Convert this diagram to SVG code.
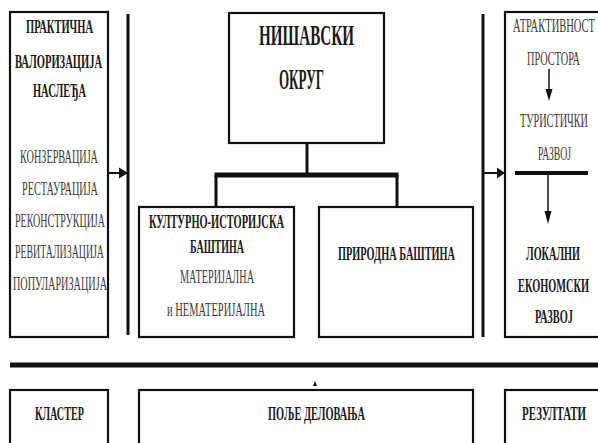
<svg xmlns="http://www.w3.org/2000/svg" width="598" height="443" viewBox="0 0 598 443">
<defs>
<style>
.box{fill:#fff;stroke:#111;stroke-width:2.2}
.ln{stroke:#111;fill:none}
.ah{fill:#111}
text{font-family:"Liberation Serif","Times New Roman",serif;font-size:18px;text-anchor:middle}
.b{font-weight:bold;fill:#1a1a1a}
.r{fill:#3a3a3a}
.t{font-size:30px;font-weight:bold;fill:#1a1a1a}
</style>
</defs>
<rect width="598" height="443" fill="#fff"/>
<g id="valorizacija">
<rect class="box" x="10" y="12" width="98" height="325"/>
<text class="b" x="59.5" y="33" textLength="67" lengthAdjust="spacingAndGlyphs">ПРАКТИЧНА</text>
<text class="b" x="58.5" y="68" textLength="87" lengthAdjust="spacingAndGlyphs">ВАЛОРИЗАЦИЈА</text>
<text class="b" x="59.5" y="97" textLength="53" lengthAdjust="spacingAndGlyphs">НАСЛЕЂА</text>
<text class="r" x="59" y="163" textLength="78" lengthAdjust="spacingAndGlyphs">КОНЗЕРВАЦИЈА</text>
<text class="r" x="60" y="195" textLength="76" lengthAdjust="spacingAndGlyphs">РЕСТАУРАЦИЈА</text>
<text class="r" x="60" y="227" textLength="90" lengthAdjust="spacingAndGlyphs">РЕКОНСТРУКЦИЈА</text>
<text class="r" x="59.5" y="258" textLength="89" lengthAdjust="spacingAndGlyphs">РЕВИТАЛИЗАЦИЈА</text>
<text class="r" x="60" y="290" textLength="94" lengthAdjust="spacingAndGlyphs">ПОПУЛАРИЗАЦИЈА</text>
</g>
<g id="okrug">
<rect class="box" x="229" y="13" width="155" height="130"/>
<text class="t" x="306.5" y="45" textLength="95" lengthAdjust="spacingAndGlyphs">НИШАВСКИ</text>
<text class="t" x="301.5" y="89" textLength="45" lengthAdjust="spacingAndGlyphs">ОКРУГ</text>
</g>
<g id="kulturna">
<rect class="box" x="139" y="207" width="155" height="130"/>
<text class="b" x="216.5" y="228" textLength="135" lengthAdjust="spacingAndGlyphs">КУЛТУРНО-ИСТОРИЈСКА</text>
<text class="b" x="217" y="253" textLength="54" lengthAdjust="spacingAndGlyphs">БАШТИНА</text>
<text class="r" x="217" y="283" textLength="74" lengthAdjust="spacingAndGlyphs">МАТЕРИЈАЛНА</text>
<text class="r" x="216" y="316" textLength="98" lengthAdjust="spacingAndGlyphs">и НЕМАТЕРИЈАЛНА</text>
</g>
<g id="prirodna">
<rect class="box" x="319" y="207" width="154" height="130"/>
<text class="b" x="396.5" y="260" textLength="117" lengthAdjust="spacingAndGlyphs">ПРИРОДНА БАШТИНА</text>
</g>
<g id="razvoj">
<rect class="box" x="505" y="12" width="110" height="325"/>
<text class="r" x="554" y="32" textLength="82" lengthAdjust="spacingAndGlyphs">АТРАКТИВНОСТ</text>
<text class="r" x="553.5" y="65" textLength="53" lengthAdjust="spacingAndGlyphs">ПРОСТОРА</text>
<text class="r" x="554" y="127" textLength="68" lengthAdjust="spacingAndGlyphs">ТУРИСТИЧКИ</text>
<text class="r" x="554.5" y="160" textLength="33" lengthAdjust="spacingAndGlyphs">РАЗВОЈ</text>
<text class="b" x="553" y="260" textLength="54" lengthAdjust="spacingAndGlyphs">ЛОКАЛНИ</text>
<text class="b" x="553.5" y="292" textLength="71" lengthAdjust="spacingAndGlyphs">ЕКОНОМСКИ</text>
<text class="b" x="554" y="323" textLength="38" lengthAdjust="spacingAndGlyphs">РАЗВОЈ</text>
</g>
<g id="klaster">
<rect class="box" x="10" y="390" width="98" height="70"/>
<text class="b" x="59.5" y="420" textLength="49" lengthAdjust="spacingAndGlyphs">КЛАСТЕР</text>
</g>
<g id="polje">
<rect class="box" x="139" y="390" width="334" height="70"/>
<text class="b" x="316.5" y="420" textLength="97" lengthAdjust="spacingAndGlyphs">ПОЉЕ ДЕЛОВАЊА</text>
</g>
<g id="rezultati">
<rect class="box" x="505" y="390" width="110" height="70"/>
<text class="b" x="554" y="420" textLength="64" lengthAdjust="spacingAndGlyphs">РЕЗУЛТАТИ</text>
</g>
<g id="connectors">
<line class="ln" x1="128" y1="14" x2="128" y2="335" stroke-width="3"/>
<line class="ln" x1="108" y1="173" x2="121" y2="173" stroke-width="2"/>
<polygon class="ah" points="119,167.5 128,173 119,178.5"/>
<line class="ln" x1="307" y1="144" x2="307" y2="175" stroke-width="3"/>
<line class="ln" x1="214.5" y1="175" x2="398.5" y2="175" stroke-width="5"/>
<line class="ln" x1="216" y1="175" x2="216" y2="206" stroke-width="3"/>
<line class="ln" x1="397" y1="175" x2="397" y2="206" stroke-width="3"/>
<line class="ln" x1="483" y1="14" x2="483" y2="337" stroke-width="3"/>
<line class="ln" x1="483" y1="173" x2="499" y2="173" stroke-width="2"/>
<polygon class="ah" points="497,167.5 505,173 497,178.5"/>
<line class="ln" x1="515" y1="173" x2="588" y2="173" stroke-width="4"/>
<line class="ln" x1="549" y1="69" x2="549" y2="91" stroke-width="1.5"/>
<polygon class="ah" points="545.5,89 552.5,89 549,101"/>
<line class="ln" x1="548" y1="175" x2="548" y2="213" stroke-width="1.5"/>
<polygon class="ah" points="544.5,211 551.5,211 548,224"/>
<line class="ln" x1="10" y1="365" x2="598" y2="365" stroke-width="5"/>
<polygon class="ah" points="313,386 315,381 317,386"/>
</g>
</svg>
